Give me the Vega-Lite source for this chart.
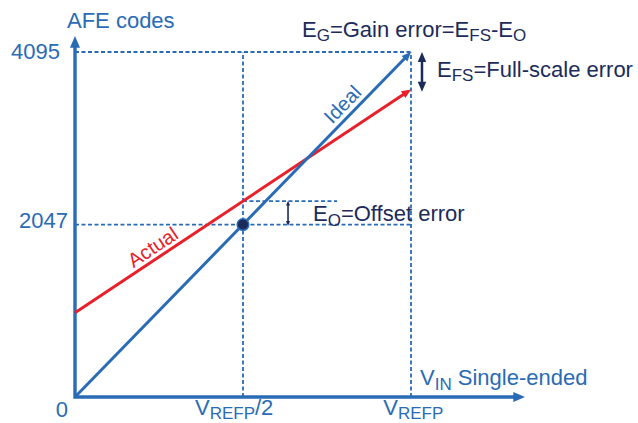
{
  "$schema": "https://vega.github.io/schema/vega-lite/v6.json",
  "width": 638,
  "height": 423,
  "autosize": {"type": "none"},
  "padding": 0,
  "background": "white",
  "config": {"view": {"stroke": null}, "text": {"font": "Liberation Sans"}},
  "datasets": {
    "dash": [
      {"x": 0, "y": 4095, "x2": 1, "y2": 4095},
      {"x": 0, "y": 2047, "x2": 1.005, "y2": 2047},
      {"x": 0.5, "y": 0, "x2": 0.5, "y2": 4095},
      {"x": 1, "y": 0, "x2": 1, "y2": 4095},
      {"x": 0.5, "y": 2325, "x2": 0.78, "y2": 2325}
    ],
    "axes": [
      {"x": 0, "y": 4190, "o": 1},
      {"x": 0, "y": 0, "o": 2},
      {"x": 1.3155, "y": 0, "o": 3}
    ],
    "ideal": [{"x": 0, "y": 0, "x2": 0.9875, "y2": 4044}],
    "actual": [{"x": 0, "y": 1000, "x2": 0.9851, "y2": 3610.5}],
    "dot": [{"x": 0.5, "y": 2047}],
    "fsbar": [{"x": 1.0327, "y": 4023.8, "y2": 3691.4}],
    "obar": [{"x": 0.634, "y": 2290, "y2": 2077}],
    "blueMain": [
      {"t": "AFE codes", "x": -0.0238, "y": 4374},
      {"t": "V", "x": 0.3571, "y": -213.7},
      {"t": "/2", "x": 0.5357, "y": -213.7},
      {"t": "V", "x": 0.9176, "y": -213.7},
      {"t": "V", "x": 1.0268, "y": 142.4},
      {"t": "Single-ended", "x": 1.1393, "y": 142.4}
    ],
    "blueSub": [
      {"t": "REFP", "x": 0.4009, "y": -261.1},
      {"t": "REFP", "x": 0.9613, "y": -261.1},
      {"t": "IN", "x": 1.0705, "y": 89.0}
    ],
    "blueRight": [
      {"t": "4095", "x": -0.0446, "y": 4006},
      {"t": "2047", "x": -0.0208, "y": 2006}
    ],
    "blueCenter": [{"t": "0", "x": -0.0387, "y": -237.4}],
    "navyMain": [
      {"t": "E", "x": 0.6756, "y": 4276.6},
      {"t": "=Gain error=E", "x": 0.7586, "y": 4276.6},
      {"t": "-E", "x": 1.2381, "y": 4276.6},
      {"t": "E", "x": 1.0774, "y": 3794.7},
      {"t": "=Full-scale error", "x": 1.1857, "y": 3794.7},
      {"t": "E", "x": 0.7083, "y": 2089.1},
      {"t": "=Offset error", "x": 0.7914, "y": 2089.1}
    ],
    "navySub": [
      {"t": "G", "x": 0.7193, "y": 4225.6},
      {"t": "FS", "x": 1.1735, "y": 4225.6},
      {"t": "O", "x": 1.3036, "y": 4225.6},
      {"t": "FS", "x": 1.1211, "y": 3744.9},
      {"t": "O", "x": 0.7521, "y": 2035.6}
    ],
    "idealLabel": [{"t": "Ideal", "x": 0.8107, "y": 3416}],
    "actualLabel": [{"t": "Actual", "x": 0.2429, "y": 1710.4}],
    "headUp": [{"x": 0, "y": 4284.9}],
    "headRight": [{"x": 1.3393, "y": 0}],
    "headIdeal": [{"x": 1, "y": 4095}],
    "headActual": [{"x": 1, "y": 3650}],
    "fsTop": [{"x": 1.0327, "y": 4095}],
    "fsBottom": [{"x": 1.0327, "y": 3624}],
    "oTop": [{"x": 0.634, "y": 2330}],
    "oBottom": [{"x": 0.634, "y": 2030}]
  },
  "layer": [
    {
      "data": {"name": "dash"},
      "mark": {"type": "rule", "color": "#2a6bb5", "strokeWidth": 1.8, "strokeDash": [4, 2.5]},
      "encoding": {
        "x": {"field": "x", "type": "quantitative", "scale": {"domain": [-0.22321, 1.6756], "nice": false, "zero": false}, "axis": null},
        "y": {"field": "y", "type": "quantitative", "scale": {"domain": [-308.61, 4712.23], "nice": false, "zero": false}, "axis": null},
        "x2": {"field": "x2"},
        "y2": {"field": "y2"}
      }
    },
    {
      "data": {"name": "axes"},
      "mark": {"type": "line", "color": "#2a6bb5", "strokeWidth": 3.4, "strokeJoin": "miter"},
      "encoding": {
        "x": {"field": "x", "type": "quantitative", "axis": null},
        "y": {"field": "y", "type": "quantitative", "axis": null},
        "order": {"field": "o", "type": "quantitative"}
      }
    },
    {
      "data": {"name": "actual"},
      "mark": {"type": "rule", "color": "#e8202a", "strokeWidth": 3},
      "encoding": {
        "x": {"field": "x", "type": "quantitative", "axis": null},
        "y": {"field": "y", "type": "quantitative", "axis": null},
        "x2": {"field": "x2"},
        "y2": {"field": "y2"}
      }
    },
    {
      "data": {"name": "ideal"},
      "mark": {"type": "rule", "color": "#2a6bb5", "strokeWidth": 3},
      "encoding": {
        "x": {"field": "x", "type": "quantitative", "axis": null},
        "y": {"field": "y", "type": "quantitative", "axis": null},
        "x2": {"field": "x2"},
        "y2": {"field": "y2"}
      }
    },
    {
      "data": {"name": "dot"},
      "mark": {"type": "point", "shape": "circle", "filled": true, "fill": "#1c2b5a", "stroke": "#2a6bb5", "strokeWidth": 1.5, "size": 135, "opacity": 1},
      "encoding": {
        "x": {"field": "x", "type": "quantitative", "axis": null},
        "y": {"field": "y", "type": "quantitative", "axis": null}
      }
    },
    {
      "data": {"name": "fsbar"},
      "mark": {"type": "rule", "color": "#1c2b5a", "strokeWidth": 2.5},
      "encoding": {
        "x": {"field": "x", "type": "quantitative", "axis": null},
        "y": {"field": "y", "type": "quantitative", "axis": null},
        "y2": {"field": "y2"}
      }
    },
    {
      "data": {"name": "obar"},
      "mark": {"type": "rule", "color": "#1c2b5a", "strokeWidth": 1.6},
      "encoding": {
        "x": {"field": "x", "type": "quantitative", "axis": null},
        "y": {"field": "y", "type": "quantitative", "axis": null},
        "y2": {"field": "y2"}
      }
    },
    {
      "data": {"name": "headUp"},
      "mark": {"type": "point", "shape": "M0,0L1.2,2.8L-1.2,2.8Z", "filled": true, "color": "#2a6bb5", "opacity": 1, "size": 70, "angle": 0},
      "encoding": {
        "x": {"field": "x", "type": "quantitative", "axis": null},
        "y": {"field": "y", "type": "quantitative", "axis": null}
      }
    },
    {
      "data": {"name": "headRight"},
      "mark": {"type": "point", "shape": "M0,0L1.2,2.8L-1.2,2.8Z", "filled": true, "color": "#2a6bb5", "opacity": 1, "size": 70, "angle": 90},
      "encoding": {
        "x": {"field": "x", "type": "quantitative", "axis": null},
        "y": {"field": "y", "type": "quantitative", "axis": null}
      }
    },
    {
      "data": {"name": "headIdeal"},
      "mark": {"type": "point", "shape": "M0,0L1.2,2.8L-1.2,2.8Z", "filled": true, "color": "#2a6bb5", "opacity": 1, "size": 45, "angle": 44.24},
      "encoding": {
        "x": {"field": "x", "type": "quantitative", "axis": null},
        "y": {"field": "y", "type": "quantitative", "axis": null}
      }
    },
    {
      "data": {"name": "headActual"},
      "mark": {"type": "point", "shape": "M0,0L1.2,2.8L-1.2,2.8Z", "filled": true, "color": "#e8202a", "opacity": 1, "size": 45, "angle": 56.4},
      "encoding": {
        "x": {"field": "x", "type": "quantitative", "axis": null},
        "y": {"field": "y", "type": "quantitative", "axis": null}
      }
    },
    {
      "data": {"name": "fsTop"},
      "mark": {"type": "point", "shape": "M0,0L1.2,2.8L-1.2,2.8Z", "filled": true, "color": "#1c2b5a", "opacity": 1, "size": 50, "angle": 0},
      "encoding": {
        "x": {"field": "x", "type": "quantitative", "axis": null},
        "y": {"field": "y", "type": "quantitative", "axis": null}
      }
    },
    {
      "data": {"name": "fsBottom"},
      "mark": {"type": "point", "shape": "M0,0L1.2,2.8L-1.2,2.8Z", "filled": true, "color": "#1c2b5a", "opacity": 1, "size": 50, "angle": 180},
      "encoding": {
        "x": {"field": "x", "type": "quantitative", "axis": null},
        "y": {"field": "y", "type": "quantitative", "axis": null}
      }
    },
    {
      "data": {"name": "oTop"},
      "mark": {"type": "point", "shape": "M0,0L1.2,2.8L-1.2,2.8Z", "filled": true, "color": "#1c2b5a", "opacity": 1, "size": 12, "angle": 0},
      "encoding": {
        "x": {"field": "x", "type": "quantitative", "axis": null},
        "y": {"field": "y", "type": "quantitative", "axis": null}
      }
    },
    {
      "data": {"name": "oBottom"},
      "mark": {"type": "point", "shape": "M0,0L1.2,2.8L-1.2,2.8Z", "filled": true, "color": "#1c2b5a", "opacity": 1, "size": 12, "angle": 180},
      "encoding": {
        "x": {"field": "x", "type": "quantitative", "axis": null},
        "y": {"field": "y", "type": "quantitative", "axis": null}
      }
    },
    {
      "data": {"name": "blueMain"},
      "mark": {"type": "text", "color": "#2a6bb5", "fontSize": 22, "align": "left", "baseline": "alphabetic"},
      "encoding": {
        "x": {"field": "x", "type": "quantitative", "axis": null},
        "y": {"field": "y", "type": "quantitative", "axis": null},
        "text": {"field": "t"}
      }
    },
    {
      "data": {"name": "blueSub"},
      "mark": {"type": "text", "color": "#2a6bb5", "fontSize": 17, "align": "left", "baseline": "alphabetic"},
      "encoding": {
        "x": {"field": "x", "type": "quantitative", "axis": null},
        "y": {"field": "y", "type": "quantitative", "axis": null},
        "text": {"field": "t"}
      }
    },
    {
      "data": {"name": "blueRight"},
      "mark": {"type": "text", "color": "#2a6bb5", "fontSize": 22, "align": "right", "baseline": "alphabetic"},
      "encoding": {
        "x": {"field": "x", "type": "quantitative", "axis": null},
        "y": {"field": "y", "type": "quantitative", "axis": null},
        "text": {"field": "t"}
      }
    },
    {
      "data": {"name": "blueCenter"},
      "mark": {"type": "text", "color": "#2a6bb5", "fontSize": 22, "align": "center", "baseline": "alphabetic"},
      "encoding": {
        "x": {"field": "x", "type": "quantitative", "axis": null},
        "y": {"field": "y", "type": "quantitative", "axis": null},
        "text": {"field": "t"}
      }
    },
    {
      "data": {"name": "navyMain"},
      "mark": {"type": "text", "color": "#1c2b5a", "fontSize": 22, "align": "left", "baseline": "alphabetic"},
      "encoding": {
        "x": {"field": "x", "type": "quantitative", "axis": null},
        "y": {"field": "y", "type": "quantitative", "axis": null},
        "text": {"field": "t"}
      }
    },
    {
      "data": {"name": "navySub"},
      "mark": {"type": "text", "color": "#1c2b5a", "fontSize": 17, "align": "left", "baseline": "alphabetic"},
      "encoding": {
        "x": {"field": "x", "type": "quantitative", "axis": null},
        "y": {"field": "y", "type": "quantitative", "axis": null},
        "text": {"field": "t"}
      }
    },
    {
      "data": {"name": "idealLabel"},
      "mark": {"type": "text", "color": "#2a6bb5", "fontSize": 20, "align": "center", "baseline": "alphabetic", "angle": -45.8},
      "encoding": {
        "x": {"field": "x", "type": "quantitative", "axis": null},
        "y": {"field": "y", "type": "quantitative", "axis": null},
        "text": {"field": "t"}
      }
    },
    {
      "data": {"name": "actualLabel"},
      "mark": {"type": "text", "color": "#e8202a", "fontSize": 20, "align": "center", "baseline": "alphabetic", "angle": -33.6},
      "encoding": {
        "x": {"field": "x", "type": "quantitative", "axis": null},
        "y": {"field": "y", "type": "quantitative", "axis": null},
        "text": {"field": "t"}
      }
    }
  ]
}
